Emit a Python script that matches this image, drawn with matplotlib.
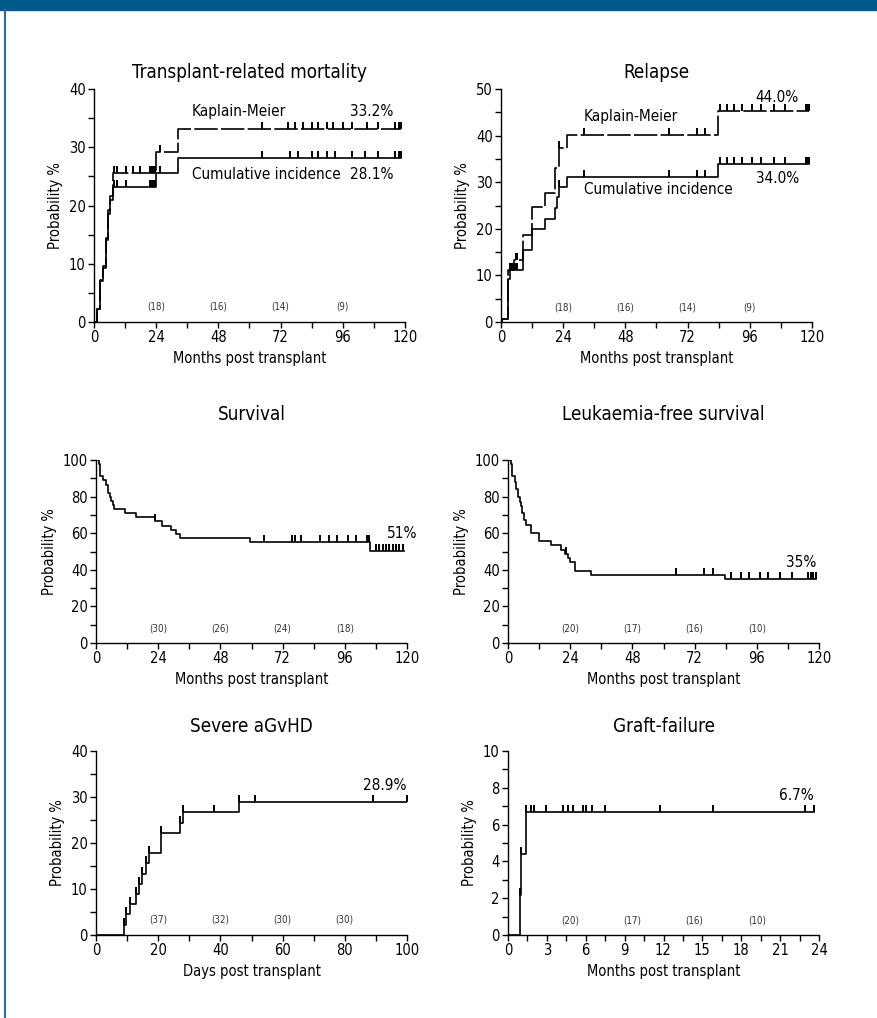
import numpy as np
import matplotlib
matplotlib.use('Agg')
import matplotlib.pyplot as plt
from matplotlib import font_manager
from matplotlib.lines import Line2D

# pick a narrow-ish sans if the box has one
_fonts = {(f.name, f.stretch) for f in font_manager.fontManager.ttflist}
_names = {n for n, _ in _fonts}
if any(n == 'DejaVu Sans' and s == 'condensed' for n, s in _fonts):
    plt.rcParams['font.family'] = 'DejaVu Sans'
    plt.rcParams['font.stretch'] = 'condensed'
elif 'Liberation Sans Narrow' in _names:
    plt.rcParams['font.family'] = 'Liberation Sans Narrow'
else:
    plt.rcParams['font.family'] = 'DejaVu Sans'

# ---------------- data ----------------
# Transplant-related mortality (months, %)
trm_ci_t = [0, 1.0, 2.2, 3.3, 4.6, 5.4, 6.2, 7.4, 24.0, 32.5]
trm_ci_p = [0, 2.3, 7.0, 9.3, 14.0, 18.6, 20.9, 23.2, 25.5, 28.1]
trm_km_t = [0, 1.0, 2.2, 3.3, 4.6, 5.4, 6.2, 7.4, 24.0, 32.5]
trm_km_p = [0, 2.3, 7.2, 9.6, 14.5, 19.3, 21.7, 25.6, 29.1, 33.2]
trm_end = 118.6
trm_ci_cens = [7.6, 8.9, 12.2, 21.5, 22.2, 22.8, 23.4, 25.4,
               64.7, 75.6, 78.8, 84.0, 86.6, 89.8, 93.0, 99.4, 104.6, 109.7, 116.2, 117.5, 118.4]
trm_km_cens = [7.6, 8.9, 12.2, 15.0, 17.6, 21.5, 22.2, 22.8, 23.4, 25.4,
               64.7, 75.0, 77.5, 80.8, 84.0, 86.6, 89.8, 92.4, 96.2, 99.4, 105.2, 109.7, 116.2, 117.5, 118.4]
trm_risk = ['(18)', '(16)', '(14)', '(9)']

# Relapse
rel_ci_t = [0, 0.3, 2.8, 3.5, 8.6, 11.8, 17.0, 21.0, 21.6, 22.3, 25.4, 83.7]
rel_ci_p = [0, 0.7, 9.3, 11.1, 15.5, 20.0, 22.2, 24.4, 26.9, 29.0, 31.2, 34.0]
rel_km_t = [0, 0.3, 2.8, 5.2, 8.6, 11.8, 17.0, 21.0, 22.3, 25.4, 83.7]
rel_km_p = [0, 0.7, 11.1, 13.3, 18.6, 24.6, 27.7, 33.0, 37.3, 40.1, 45.2]
rel_end = 118.7
rel_cens = [3.6, 4.2, 5.0, 5.6, 6.3, 22.5, 32.1, 65.0, 75.6, 78.8,
            84.6, 87.2, 89.8, 93.0, 96.9, 100.3, 105.2, 109.7, 117.5, 118.1, 118.7]
rel_risk = ['(18)', '(16)', '(14)', '(9)']

# Survival
os_t = [0, 1.0, 1.6, 2.6, 4.0, 4.6, 5.3, 5.9, 6.5, 7.1, 11.3, 15.6, 22.9, 25.5, 29.0, 31.0, 32.3, 59.3, 105.8]
os_p = [100, 97.7, 91.0, 88.8, 86.5, 82.0, 79.7, 77.5, 75.3, 73.4, 71.2, 69.0, 66.6, 64.2, 61.9, 59.6, 57.4, 55.1, 50.5]
os_end = 119.0
os_cens = [22.9, 65.0, 75.6, 76.9, 79.2, 86.3, 89.8, 93.0, 97.1, 100.3, 104.5, 105.2,
           108.0, 109.3, 110.6, 111.9, 113.2, 114.5, 115.8, 117.0, 118.3]
os_risk = ['(30)', '(26)', '(24)', '(18)']

# Leukaemia-free survival
lfs_t = [0, 1.0, 1.6, 2.6, 3.1, 3.7, 4.5, 5.1, 5.5, 6.0, 7.0, 8.7, 12.0, 16.7, 20.6, 21.9, 23.1, 23.8, 25.7, 32.2, 83.6]
lfs_p = [100, 97.7, 91.0, 88.0, 84.0, 80.0, 77.0, 75.0, 71.0, 67.0, 64.4, 60.0, 55.5, 53.3, 51.0, 48.5, 46.2, 44.0, 39.6, 37.2, 34.7]
lfs_end = 118.7
lfs_cens = [22.2, 22.5, 65.0, 75.6, 79.1, 86.2, 90.0, 93.0, 97.3, 100.3, 105.0, 109.7,
            115.7, 117.0, 117.8, 118.7]
lfs_risk = ['(20)', '(17)', '(16)', '(10)']

# Severe aGvHD (days)
gvhd_t = [0, 8.9, 9.8, 10.8, 12.9, 13.9, 14.9, 16.0, 16.9, 20.9, 26.9, 28.0, 46.0]
gvhd_p = [0, 2.2, 4.5, 6.7, 8.9, 11.1, 13.3, 15.6, 17.8, 22.2, 24.4, 26.7, 28.9]
gvhd_end = 100.0
gvhd_cens = [8.9, 9.8, 10.8, 12.9, 13.9, 14.9, 16.0, 16.9, 20.9, 26.9, 28.0, 38.0, 46.0, 51.0, 89.0, 100.0]
gvhd_risk = ['(37)', '(32)', '(30)', '(30)']

# Graft failure (months)
gf_t = [0, 0.9, 0.98, 1.4]
gf_p = [0, 2.2, 4.4, 6.7]
gf_end = 23.6
gf_cens = [0.92, 0.98, 1.41, 1.75, 1.99, 2.91, 4.24, 4.63, 5.02, 5.79, 5.99, 6.51, 7.46, 11.75, 15.8, 22.9, 23.6]
gf_risk = ['(20)', '(17)', '(16)', '(10)']


W, H = 877, 1018
fig = plt.figure(figsize=(W / 100, H / 100), dpi=100)

# page frame: blue band at top, thin rule down the left
fig.patches.append(plt.Rectangle((0, 1 - 10 / H), 1, 10 / H, transform=fig.transFigure,
                                 color='#005a8c', zorder=0))
fig.lines.append(Line2D([4.5 / W, 4.5 / W], [0, 1 - 10 / H], transform=fig.transFigure,
                        color='#1f6fb0', lw=1.5))


def px_axes(l, t, r, b):
    return fig.add_axes([l / W, 1 - b / H, (r - l) / W, (b - t) / H])


def level_at(times, probs, x):
    idx = np.searchsorted(times, x, side='right') - 1
    return np.asarray(probs)[idx]


def draw_curve(ax, times, probs, end, cens, ls='-'):
    tt = list(times) + [end]
    pp = list(probs) + [probs[-1]]
    ax.step(tt, pp, where='post', color='black', lw=1.2, linestyle=ls)
    c = np.array(cens)
    ax.plot(c, level_at(times, probs, c), linestyle='none', marker=2,
            markersize=5, mew=1.4, color='black')


def style(ax, title, xmax, xmajor, xminor, ymax, ymajor, yminor, xlabel, title_pad):
    ax.set_xlim(0, xmax)
    ax.set_ylim(0, ymax)
    ax.spines['top'].set_visible(False)
    ax.spines['right'].set_visible(False)
    for s in ('left', 'bottom'):
        ax.spines[s].set_linewidth(1.0)
    ax.set_xticks(np.arange(0, xmax + 0.001, xmajor))
    ax.set_xticks(np.arange(0, xmax + 0.001, xminor), minor=True)
    ax.set_yticks(np.arange(0, ymax + 0.001, ymajor))
    ax.set_yticks(np.arange(0, ymax + 0.001, yminor), minor=True)
    ax.tick_params(which='both', direction='out', length=4, width=1.0, labelsize=10.5, pad=2)
    ax.set_xticklabels([f'{v:g}' for v in np.arange(0, xmax + 0.001, xmajor)])
    ax.set_yticklabels([f'{v:g}' for v in np.arange(0, ymax + 0.001, ymajor)])
    ax.set_xlabel(xlabel, fontsize=10.5, labelpad=4)
    ax.set_ylabel('Probability %', fontsize=10.5, labelpad=4)
    ax.set_title(title, fontsize=13.5, pad=title_pad)
    ax.patch.set_alpha(0)


def risk(ax, xs, y, labels):
    for x, lab in zip(xs, labels):
        ax.text(x, y, lab, fontsize=7, ha='center', va='center', color='#333333')


KM_DASH = (0, (14, 2))

# Transplant-related mortality
ax = px_axes(94, 89, 405, 322)
draw_curve(ax, trm_km_t, trm_km_p, trm_end, trm_km_cens, ls=KM_DASH)
draw_curve(ax, trm_ci_t, trm_ci_p, trm_end, trm_ci_cens)
style(ax, 'Transplant-related mortality', 120, 24, 12, 40, 10, 5, 'Months post transplant', 8)
ax.text(37.8, 36.2, 'Kaplain-Meier', fontsize=11, va='center', ha='left')
ax.text(115.7, 36.2, '33.2%', fontsize=11, va='center', ha='right')
ax.text(37.8, 25.4, 'Cumulative incidence', fontsize=11, va='center', ha='left')
ax.text(115.7, 25.4, '28.1%', fontsize=11, va='center', ha='right')
risk(ax, [24, 48, 72, 96], 2.6, trm_risk)

# Relapse
ax = px_axes(501, 89, 812, 322)
draw_curve(ax, rel_km_t, rel_km_p, rel_end, rel_cens, ls=KM_DASH)
draw_curve(ax, rel_ci_t, rel_ci_p, rel_end, rel_cens)
style(ax, 'Relapse', 120, 24, 12, 50, 10, 5, 'Months post transplant', 8)
ax.text(32.0, 44.0, 'Kaplain-Meier', fontsize=11, va='center', ha='left')
ax.text(115.0, 48.1, '44.0%', fontsize=11, va='center', ha='right')
ax.text(115.0, 30.9, '34.0%', fontsize=11, va='center', ha='right')
ax.text(32.0, 28.5, 'Cumulative incidence', fontsize=11, va='center', ha='left')
risk(ax, [24, 48, 72, 96], 3.2, rel_risk)

# Survival
ax = px_axes(96, 460, 407, 643)
draw_curve(ax, os_t, os_p, os_end, os_cens)
style(ax, 'Survival', 120, 24, 12, 100, 20, 10, 'Months post transplant', 29)
ax.text(124.2, 60.0, '51%', fontsize=11, va='center', ha='right', clip_on=False)
risk(ax, [24, 48, 72, 96], 7.8, os_risk)

# Leukaemia-free survival
ax = px_axes(508, 460, 819, 643)
draw_curve(ax, lfs_t, lfs_p, lfs_end, lfs_cens)
style(ax, 'Leukaemia-free survival', 120, 24, 12, 100, 20, 10, 'Months post transplant', 29)
ax.text(118.8, 44.1, '35%', fontsize=11, va='center', ha='right')
risk(ax, [24, 48, 72, 96], 7.8, lfs_risk)

# Severe aGvHD
ax = px_axes(96, 751, 407, 935)
draw_curve(ax, gvhd_t, gvhd_p, gvhd_end, gvhd_cens)
style(ax, 'Severe aGvHD', 100, 20, 10, 40, 10, 5, 'Days post transplant', 14)
ax.text(100, 32.6, '28.9%', fontsize=11, va='center', ha='right')
risk(ax, [20, 40, 60, 80], 3.3, gvhd_risk)

# Graft-failure
ax = px_axes(508, 751, 819, 935)
draw_curve(ax, gf_t, gf_p, gf_end, gf_cens)
style(ax, 'Graft-failure', 24, 3, 1.5, 10, 2, 1, 'Months post transplant', 14)
ax.text(23.6, 7.6, '6.7%', fontsize=11, va='center', ha='right')
risk(ax, [4.8, 9.6, 14.4, 19.2], 0.8, gf_risk)

fig.savefig('out.png', dpi=100)
